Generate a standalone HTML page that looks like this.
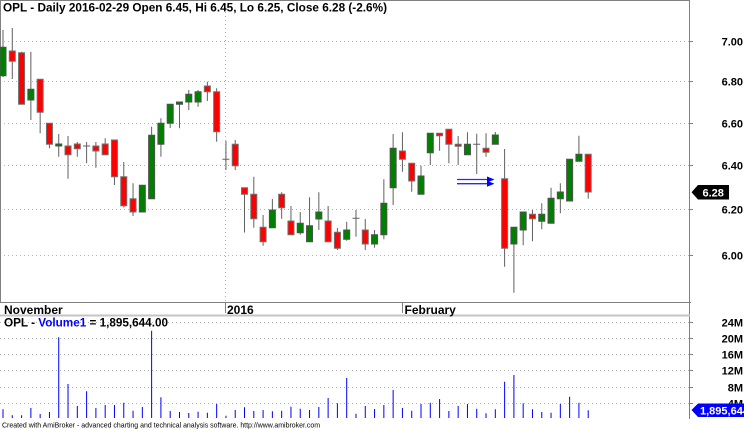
<!DOCTYPE html>
<html><head><meta charset="utf-8"><style>
html,body{margin:0;padding:0;background:#fff;}
svg{display:block;}
text{font-family:"Liberation Sans",Arial,sans-serif;}
.b{font-weight:bold;}
</style></head><body>
<svg width="744" height="429" viewBox="0 0 744 429" xmlns="http://www.w3.org/2000/svg">
<rect width="744" height="429" fill="#fff"/>
<path fill="none" stroke="#b4b4b4" stroke-dasharray="1 3" d="M0 41.5H689M0 81.5H689M0 123.5H689M0 165.5H689M0 209.5H689M0 255.5H689M225.5 0V302M0 322.5H689M0 338.5H689M0 354.5H689M0 370.5H689M0 387.5H689M0 403.5H689"/>
<path fill="none" stroke="#808080" d="M0 0.5H690M0.5 0V302M689.5 0V419M0 302.5H691M225.5 302V313M402.5 302V313M690 41.5h3M690 81.5h3M690 123.5h3M690 165.5h3M690 209.5h3M690 255.5h3M690 322.5h3M690 338.5h3M690 354.5h3M690 370.5h3M690 387.5h3M690 403.5h3"/>
<path fill="none" stroke="#c4c4c4" stroke-width="2" d="M0 315.5H690"/>
<path fill="none" stroke="#606060" d="M3 30V77M12.29 28V79M21.58 51.7V104.3M30.87 51.7V120M40.16 79.3V133.3M49.45 123.3V148.3M58.73 134V156.7M68.02 136V178.7M77.31 142V156.7M86.6 142V163.3M95.89 142V167.7M105.18 138.3V154.7M114.47 140V185M123.76 162V207.3M133.05 183.3V216M142.34 185.3V212M151.62 126.7V198.7M160.91 118.3V156.7M170.2 104.3V128M179.49 102V128.3M188.78 90V110M198.07 90V106.7M207.36 81.7V101M216.65 88.3V141.7M225.94 140.7V170M235.23 140V170M244.51 187.7V232.5M253.8 176.7V227.7M263.09 215V245.7M272.38 199V227.7M281.67 192.3V218.7M290.96 206V234.7M300.25 212V234.7M309.54 197.3V241.7M318.83 192.3V230M328.12 206V241.7M337.4 228V250M346.69 221.7V240.7M355.98 210V236.7M365.27 219V250M374.56 230V247.7M383.85 179.3V239.3M393.14 134V205M402.43 132.3V171.7M411.72 163.3V191.7M421.01 165.7V194.3M430.29 133.3V165M439.58 133.3V150.7M448.87 129.3V163.3M458.16 136V165M467.45 132.3V154.7M476.74 133.7V174M486.03 133.3V156.7M495.32 132V144.3M504.61 149V266.7M513.9 227.3V292.7M523.18 212V245.3M532.47 210V241.3M541.76 203.3V229.3M551.05 187.7V223.3M560.34 183.3V213.3M569.63 159.3V201M578.92 135.7V161.3M588.21 154.3V198.7M83.1 146H90.1M222.4 159.3H229.4M352.5 218.3H359.5M473.2 144.3H480.2"/>
<path fill="#008000" stroke="#505050" d="M0 47.3h6v28.4h-6zM27.87 89.3h6v10.7h-6zM55.73 144h6v2h-6zM139.34 185.3h6v26.7h-6zM148.62 135.3h6v63.4h-6zM157.91 123.3h6v21h-6zM167.2 104.3h6v19h-6zM176.49 102h6v2.3h-6zM185.78 94.3h6v7.7h-6zM195.07 91.7h6v10.3h-6zM269.38 210h6v17.7h-6zM297.25 223.3h6v9.4h-6zM306.54 225.7h6v16h-6zM315.83 212h6v7h-6zM343.69 230h6v9.3h-6zM371.56 234.7h6v9.3h-6zM380.85 203.3h6v31.4h-6zM390.14 148.3h6v39.4h-6zM418.01 176h6v18.3h-6zM427.29 133.3h6v19.4h-6zM464.45 144.3h6v10.4h-6zM492.32 135h6v9.3h-6zM510.9 227.3h6v16.7h-6zM520.18 212h6v18h-6zM538.76 214.3h6v7h-6zM548.05 198.3h6v25h-6zM557.34 192h6v6.7h-6zM566.63 159.3h6v41.7h-6zM575.92 154.3h6v7h-6z"/>
<path fill="#ff0000" stroke="#707070" d="M9.29 51h6v10.3h-6zM18.58 52.7h6v51.6h-6zM37.16 79.3h6v33h-6zM46.45 123.3h6v21h-6zM65.02 146h6v8.7h-6zM74.31 144h6v4.7h-6zM92.89 146h6v5h-6zM102.18 144h6v10.7h-6zM111.47 140h6v36.7h-6zM120.76 176.7h6v29h-6zM130.05 198.7h6v13.3h-6zM204.36 86h6v5.7h-6zM213.65 91.7h6v40h-6zM232.23 144.3h6v21.4h-6zM241.51 187.7h6v6.6h-6zM250.8 194.3h6v24.4h-6zM260.09 227.3h6v14.4h-6zM278.67 194.3h6v13.4h-6zM287.96 221h6v13.7h-6zM325.12 221h6v20.7h-6zM334.4 232.3h6v16h-6zM362.27 230h6v14h-6zM399.43 151h6v8.3h-6zM408.72 163.3h6v17.7h-6zM436.58 133.3h6v2.4h-6zM445.87 129.3h6v15h-6zM455.16 144.3h6v2h-6zM483.03 148.3h6v4h-6zM501.61 178.7h6v69.6h-6zM529.47 214.3h6v4.4h-6zM585.21 154.3h6v37.7h-6z"/>
<path fill="none" stroke="#2a2aff" stroke-width="1.3" d="M457 179.5H489M457 183.7H489"/>
<path fill="#0000ff" d="M487 176.5L494.5 179.5L487 182.5zM487 180.7L494.5 183.7L487 186.7z"/>
<path fill="none" stroke="#0000ff" d="M3 409.3V418M12.29 415.3V418M21.58 415.3V418M30.87 408V418M40.16 414V418M49.45 412V418M58.73 337.3V418M68.02 384V418M77.31 406V418M86.6 391.3V418M95.89 408V418M105.18 405V418M114.47 405V418M123.76 402.7V418M133.05 410.7V418M142.34 407V418M151.62 330.7V418M160.91 397.3V418M170.2 411V418M179.49 412V418M188.78 413V418M198.07 411.7V418M207.36 412.7V418M216.65 404V418M225.94 415.7V418M235.23 410V418M244.51 407.3V418M253.8 411V418M263.09 410V418M272.38 411.3V418M281.67 410.7V418M290.96 406.7V418M300.25 408.7V418M309.54 410V418M318.83 407V418M328.12 398V418M337.4 403.3V418M346.69 378V418M355.98 413.7V418M365.27 406V418M374.56 409V418M383.85 405V418M393.14 390V418M402.43 408V418M411.72 410.7V418M421.01 404V418M430.29 402.7V418M439.58 399V418M448.87 411V418M458.16 406V418M467.45 404V418M476.74 408.7V418M486.03 413.3V418M495.32 409.3V418M504.61 381.7V418M513.9 375V418M523.18 403.3V418M532.47 409.3V418M541.76 412V418M551.05 412.7V418M560.34 404V418M569.63 396.7V418M578.92 402.7V418M588.21 410.3V418"/>
<text class="b" x="3" y="11.5" font-size="12" textLength="384" lengthAdjust="spacingAndGlyphs">OPL - Daily 2016-02-29 Open 6.45, Hi 6.45, Lo 6.25, Close 6.28 (-2.6%)</text>
<g class="b" font-size="11" text-anchor="end" fill="#000">
<text x="743" y="45.5">7.00</text>
<text x="743" y="85.5">6.80</text>
<text x="743" y="127.5">6.60</text>
<text x="743" y="169.5">6.40</text>
<text x="743" y="213.5">6.20</text>
<text x="743" y="259.5">6.00</text>
<text x="743" y="326.5">24M</text>
<text x="743" y="342.5">20M</text>
<text x="743" y="358.5">16M</text>
<text x="743" y="374.5">12M</text>
<text x="743" y="391.5">8M</text>
<text x="743" y="407.5">4M</text>
</g>
<polygon points="691.5,192.3 698,185 729,185 729,199.5 698,199.5" fill="#000"/>
<text class="b" x="702.5" y="196.5" font-size="11" fill="#fff">6.28</text>
<polygon points="691.5,410 698,403.5 744,403.5 744,417 698,417" fill="#0000ff"/>
<text class="b" x="700" y="414.5" font-size="11" fill="#fff">1,895,644</text>
<g class="b" font-size="12" fill="#000">
<text x="4" y="314">November</text>
<text x="227" y="314">2016</text>
<text x="404.5" y="314">February</text>
</g>
<text class="b" x="4" y="326.5" font-size="12" textLength="164" lengthAdjust="spacingAndGlyphs">OPL - <tspan fill="#0000ff">Volume1</tspan> = 1,895,644.00</text>
<text x="2" y="427.5" font-size="7.5" fill="#000" textLength="318" lengthAdjust="spacingAndGlyphs">Created with AmiBroker - advanced charting and technical analysis software. http://www.amibroker.com</text>
</svg>
</body></html>
